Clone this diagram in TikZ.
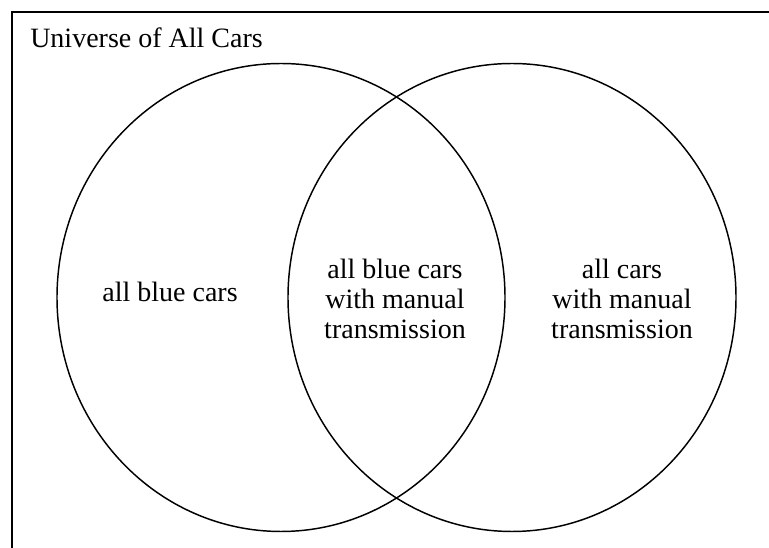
\documentclass[tikz,border=0pt]{standalone}
\usepackage{fontspec}
\setmainfont{Liberation Serif}
\usetikzlibrary{shapes.geometric}
\begin{document}
\begin{tikzpicture}[x=0.75pt,y=-0.75pt,
  setshape/.style={draw,ellipse,line width=1.1pt,minimum width=336pt,minimum height=351pt,inner sep=0pt},
  lbl/.style={font=\fontsize{21pt}{22.5pt}\selectfont,align=center,inner sep=0pt}]
\useasboundingbox (0,0) rectangle (769,548);
\fill[white] (0,0) rectangle (769,548);
\coordinate (fb) at (12,548);
\coordinate (fc) at (12,12);
\coordinate (fr) at (769,12);
\draw[line width=1.5pt] (fb) -- (fc) -- (fr);
\node[anchor=base west,inner sep=0pt,font=\fontsize{21pt}{22.5pt}\selectfont] (title) at (30,47.5) {Universe of All Cars};
\node[setshape] (blue) at (281,297.5) {};
\node[setshape] (manual) at (512,297.5) {};
\node[lbl,anchor=base] (t1) at (170,301.5) {all blue cars};
\node[lbl] (t2) at (395,299) {all blue cars\\with manual\\transmission};
\node[lbl] (t3) at (622,299) {all cars\\with manual\\transmission};
\end{tikzpicture}
\end{document}
